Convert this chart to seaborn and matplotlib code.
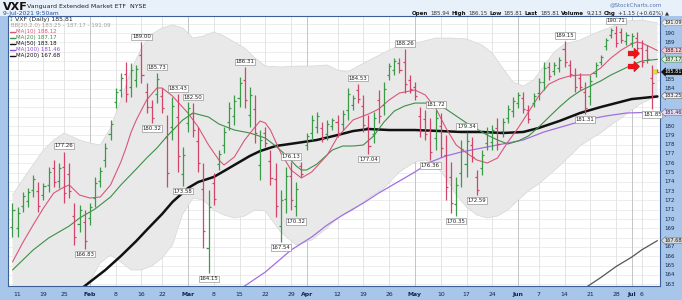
import matplotlib
matplotlib.use("Agg")
import numpy as np
import pandas as pd
import matplotlib.pyplot as plt
import seaborn as sns

# ---------------- data ----------------
dates = (["2021-01-%02d" % d for d in [8, 11, 12, 13, 14, 15, 19, 20, 21, 22, 25, 26, 27, 28, 29]] +
         ["2021-02-%02d" % d for d in [1, 2, 3, 4, 5, 8, 9, 10, 11, 12, 16, 17, 18, 19, 22, 23, 24, 25, 26]] +
         ["2021-03-%02d" % d for d in [1, 2, 3, 4, 5, 8, 9, 10, 11, 12, 15, 16, 17, 18, 19, 22, 23, 24, 25, 26, 29, 30, 31]] +
         ["2021-04-%02d" % d for d in [1, 5, 6, 7, 8, 9, 12, 13, 14, 15, 16, 19, 20, 21, 22, 23, 26, 27, 28, 29, 30]] +
         ["2021-05-%02d" % d for d in [3, 4, 5, 6, 7, 10, 11, 12, 13, 14, 17, 18, 19, 20, 21, 24, 25, 26, 27, 28]] +
         ["2021-06-%02d" % d for d in [1, 2, 3, 4, 7, 8, 9, 10, 11, 14, 15, 16, 17, 18, 21, 22, 23, 24, 25, 28, 29, 30]] +
         ["2021-07-%02d" % d for d in [1, 2, 6, 7, 8, 9]])

opens = [169.17, 169.04, 171.40, 171.90, 173.08, 173.01, 172.59, 173.71, 175.48, 174.14,
         175.60, 174.89, 170.37, 169.47, 169.73, 170.07, 172.26, 174.09, 176.36, 179.15,
         182.59, 183.89, 185.59, 184.22, 184.91, 187.69, 183.66, 182.06, 183.45, 183.28,
         178.86, 179.89, 180.92, 174.83, 180.33, 181.40, 178.44, 173.28, 166.84, 173.92,
         175.92, 177.94, 180.47, 181.08, 183.01, 185.00, 181.18, 181.79, 175.81, 179.25,
         176.29, 174.28, 169.21, 172.13, 174.58, 171.42, 175.65, 177.97, 179.30, 179.93,
         179.79, 179.15, 179.96, 180.47, 180.22, 181.68, 182.21, 183.91, 182.15, 179.94,
         179.17, 182.81, 182.25, 185.50, 186.04, 186.83, 186.85, 184.91, 184.15, 181.07,
         180.75, 179.51, 178.71, 179.98, 176.93, 174.49, 171.60, 174.96, 175.97, 178.01,
         174.47, 175.54, 178.16, 178.23, 179.83, 179.43, 180.91, 181.62, 182.46, 182.98,
         181.68, 182.49, 183.51, 184.77, 186.30, 185.91, 186.29, 188.31, 186.55, 185.47,
         185.15, 183.70, 183.23, 185.75, 186.88, 188.56, 189.78, 190.05, 190.06, 189.13,
         188.95, 189.47, 188.38, 188.13, 185.15, 185.94]
highs = [171.72, 171.29, 172.90, 173.33, 174.73, 173.98, 173.87, 175.59, 176.35, 176.02,
         177.26, 176.02, 171.72, 171.51, 170.97, 171.72, 174.52, 175.59, 178.17, 180.65,
         184.09, 185.70, 186.88, 186.78, 186.56, 189.00, 184.63, 182.80, 185.73, 184.09,
         181.18, 183.12, 183.43, 177.74, 182.58, 182.50, 179.89, 176.02, 173.12, 174.95,
         177.42, 179.89, 182.58, 183.34, 185.27, 186.31, 184.20, 183.34, 179.57, 179.89,
         177.42, 176.02, 173.12, 175.59, 176.13, 173.98, 176.13, 179.25, 181.18, 181.51,
         180.43, 180.65, 180.86, 181.18, 181.72, 184.09, 183.34, 184.53, 183.34, 181.18,
         181.51, 183.87, 184.73, 186.78, 187.32, 187.32, 188.26, 185.49, 184.73, 182.04,
         181.72, 180.86, 181.72, 181.40, 179.03, 176.13, 174.52, 178.50, 179.34, 178.82,
         175.27, 177.42, 179.89, 180.11, 180.86, 180.86, 182.26, 183.12, 183.66, 183.66,
         182.26, 183.55, 185.16, 186.88, 186.88, 186.88, 187.42, 189.15, 187.10, 186.24,
         185.70, 184.73, 185.49, 186.88, 187.64, 189.46, 190.54, 190.71, 190.54, 190.11,
         190.00, 190.11, 189.25, 188.71, 186.56, 186.15]
lows = [168.07, 168.07, 170.75, 171.29, 172.37, 170.75, 172.04, 172.90, 173.44, 173.33,
        171.72, 172.26, 167.21, 168.60, 166.83, 169.36, 171.29, 173.44, 175.59, 178.50,
        181.94, 183.12, 182.58, 183.12, 184.20, 184.63, 181.40, 180.32, 182.47, 181.40,
        173.44, 178.50, 175.06, 173.58, 179.36, 178.82, 175.06, 166.88, 164.15, 171.51,
        175.27, 177.10, 179.57, 180.11, 182.04, 181.94, 179.89, 178.17, 174.20, 177.74,
        173.66, 170.22, 167.54, 170.65, 170.97, 170.32, 174.52, 177.42, 178.50, 179.25,
        178.28, 178.50, 179.57, 178.82, 179.57, 180.65, 181.72, 182.47, 179.36, 177.04,
        178.17, 180.33, 181.18, 184.95, 185.49, 185.70, 183.55, 183.55, 182.80, 178.82,
        178.50, 176.36, 177.42, 176.67, 172.04, 170.65, 170.35, 173.44, 174.52, 176.13,
        172.59, 174.73, 177.42, 177.42, 177.42, 178.82, 180.33, 180.97, 181.94, 181.40,
        180.33, 182.04, 182.80, 183.87, 184.95, 185.49, 185.81, 186.35, 185.27, 183.66,
        183.87, 181.31, 182.26, 185.27, 186.56, 188.17, 189.46, 188.50, 188.93, 188.71,
        188.50, 187.96, 186.35, 186.78, 181.85, 185.81]
closes = [170.99, 170.65, 172.47, 172.92, 174.26, 171.40, 173.50, 175.05, 174.02, 175.48,
          172.83, 173.01, 168.11, 170.93, 167.66, 171.25, 173.87, 175.16, 177.65, 180.22,
          183.66, 185.18, 183.44, 186.05, 186.09, 185.50, 182.05, 180.82, 185.08, 181.94,
          174.99, 182.20, 176.73, 176.91, 181.94, 179.56, 176.03, 168.71, 171.33, 172.20,
          176.99, 179.33, 181.98, 182.69, 184.62, 182.81, 183.34, 179.20, 178.50, 178.17,
          174.41, 171.38, 172.00, 174.60, 172.00, 173.25, 174.84, 178.88, 180.64, 181.06,
          178.71, 180.22, 180.60, 179.29, 181.29, 183.40, 183.02, 182.88, 180.16, 177.87,
          180.84, 181.04, 184.02, 186.41, 186.95, 186.02, 184.49, 183.94, 183.19, 179.46,
          179.14, 177.26, 180.86, 177.62, 173.44, 171.75, 173.69, 177.49, 178.38, 176.67,
          173.13, 176.88, 179.40, 179.57, 178.11, 180.45, 181.87, 182.69, 183.32, 181.85,
          180.72, 183.25, 184.69, 186.28, 185.34, 186.60, 187.10, 186.91, 185.64, 184.18,
          184.24, 181.99, 184.84, 186.56, 187.42, 189.20, 190.32, 188.94, 189.25, 189.83,
          189.70, 188.39, 186.93, 187.17, 184.66, 185.81]

# indicator lines (trading-day index, value)
ma10_idx = [0, 2, 4, 6, 8, 10, 11, 13, 15, 17, 19, 21, 22, 23, 24, 26, 28, 29, 31, 34, 36, 38, 40, 41, 43,
            45, 47, 48, 49, 50, 52, 54, 56, 58, 61, 63, 66, 69, 71, 73, 75, 78, 80, 82, 84, 86, 88, 90, 92,
            94, 96, 98, 100, 102, 104, 106, 108, 110, 112, 114, 116, 118, 120, 121, 122, 124, 125]
ma10_val = [165.38, 167.47, 169.36, 171.18, 172.80, 173.44, 173.66, 172.58, 172.26, 172.37, 173.66,
            176.13, 177.64, 179.36, 180.65, 182.80, 184.09, 184.09, 183.23, 181.40, 179.89, 177.96,
            176.35, 175.81, 176.67, 178.50, 179.89, 180.54, 180.33, 179.57, 177.10, 175.27, 174.41,
            175.06, 176.88, 178.82, 180.65, 181.29, 181.83, 182.80, 183.55, 183.87, 183.34, 181.94,
            179.79, 177.96, 177.10, 176.35, 176.02, 176.56, 178.28, 179.79, 181.51, 183.23, 184.52,
            185.06, 185.38, 185.49, 185.49, 186.24, 187.32, 188.17, 188.82, 189.03, 188.93, 188.39, 188.12]
ma20_idx = [0, 4, 7, 11, 13, 16, 19, 21, 24, 26, 28, 30, 33, 35, 38, 40, 43, 46, 49, 51, 53, 55, 56, 57,
            59, 62, 64, 66, 68, 70, 72, 74, 76, 78, 80, 82, 84, 86, 88, 90, 92, 94, 96, 98, 100, 102, 104,
            106, 108, 110, 112, 114, 116, 118, 120, 122, 125]
ma20_val = [164.52, 166.67, 167.96, 169.25, 170.11, 171.08, 172.37, 173.66, 175.38, 176.56, 177.64,
            178.93, 180.65, 181.40, 180.97, 180.22, 179.57, 179.25, 178.71, 177.85, 176.88, 175.70,
            175.27, 175.27, 175.91, 177.42, 177.85, 177.85, 177.96, 178.93, 180.43, 181.61, 182.15,
            182.47, 182.47, 182.37, 181.83, 181.08, 180.33, 179.68, 179.03, 178.50, 178.07, 178.39,
            178.93, 179.89, 180.97, 182.04, 183.01, 183.77, 184.30, 184.84, 185.49, 186.02, 186.56,
            186.99, 187.17]
ma50_idx = [13, 14, 16, 18, 21, 24, 26, 29, 31, 34, 36, 39, 41, 43, 46, 48, 51, 55, 59, 63, 66, 69, 73,
            78, 83, 87, 91, 95, 99, 102, 106, 110, 114, 117, 120, 122, 125]
ma50_val = [162.37, 162.80, 163.66, 164.52, 166.02, 167.64, 168.82, 170.54, 171.83, 173.33, 173.98,
            174.52, 175.16, 175.81, 176.78, 177.31, 177.85, 178.17, 178.50, 179.03, 179.46, 179.68,
            179.57, 179.57, 179.46, 179.36, 179.36, 179.25, 179.36, 179.79, 180.54, 181.40, 182.04,
            182.47, 182.90, 183.01, 183.18]
ma100_idx = [44, 45, 49, 54, 58, 61, 64, 68, 71, 75, 78, 81, 84, 87, 91, 95, 99, 103, 107, 111, 115,
             119, 122, 125]
ma100_val = [162.58, 162.80, 164.30, 166.67, 168.07, 169.36, 170.43, 171.72, 172.80, 174.09, 175.06,
             176.13, 176.78, 177.21, 177.64, 178.07, 178.50, 179.36, 180.00, 180.65, 181.08, 181.40,
             181.45, 181.46]
ma200_idx = [111, 114, 117, 120, 122, 125]
ma200_val = [162.60, 163.70, 164.90, 165.90, 166.70, 167.68]
bb_up_idx = [0, 3, 6, 8, 10, 13, 15, 17, 19, 21, 23, 25, 27, 29, 31, 33, 35, 37, 39, 41, 43, 45, 47, 49,
             52, 55, 58, 61, 63, 65, 67, 70, 73, 76, 79, 82, 85, 88, 91, 93, 95, 97, 99, 101, 103, 105,
             107, 110, 113, 116, 119, 122, 125]
bb_up_val = [172.58, 175.06, 177.42, 178.50, 179.25, 178.50, 178.17, 177.96, 179.79, 182.80, 186.02,
             188.39, 189.89, 190.54, 190.86, 190.54, 189.46, 189.68, 190.11, 189.68, 189.03, 188.39,
             187.32, 186.45, 186.35, 186.45, 186.45, 186.56, 186.02, 185.81, 186.45, 187.32, 188.17,
             188.93, 189.03, 189.46, 189.46, 189.36, 188.71, 187.85, 186.24, 184.73, 184.30, 184.95,
             186.45, 187.96, 188.82, 189.25, 190.00, 190.65, 191.29, 191.40, 191.09]
bb_lo_idx = [0, 3, 6, 8, 10, 13, 15, 17, 19, 21, 23, 25, 27, 29, 31, 33, 35, 37, 39, 41, 43, 45, 47, 49,
             52, 55, 58, 61, 63, 66, 69, 72, 75, 78, 80, 82, 84, 86, 88, 90, 92, 94, 96, 98, 100, 102,
             104, 106, 108, 110, 112, 114, 116, 118, 120, 122, 125]
bb_lo_val = [156.45, 156.99, 157.42, 157.64, 159.03, 161.72, 163.33, 165.27, 166.13, 165.38, 164.52,
             164.52, 164.95, 165.81, 167.21, 170.54, 172.26, 172.04, 170.97, 170.43, 170.11, 170.32,
             170.97, 170.86, 168.60, 167.21, 167.74, 169.03, 170.11, 170.97, 172.26, 173.33, 175.06,
             176.13, 176.35, 175.81, 174.41, 172.58, 171.29, 170.43, 170.11, 170.32, 170.97, 172.04,
             173.01, 173.77, 174.73, 175.70, 176.78, 177.85, 178.60, 179.25, 180.11, 180.86, 181.72,
             182.47, 183.25]

hi_label_idx = [10, 25, 28, 32, 35, 45, 54, 67, 76, 82, 88, 107, 117]
lo_label_idx = [14, 27, 33, 38, 52, 55, 69, 81, 86, 90, 111, 124]

tick_dates = ["2021-01-11", "2021-01-19", "2021-01-25", "2021-02-01", "2021-02-08", "2021-02-16",
              "2021-02-22", "2021-03-01", "2021-03-08", "2021-03-15", "2021-03-22", "2021-03-29",
              "2021-04-01", "2021-04-12", "2021-04-19", "2021-04-26", "2021-05-03", "2021-05-10",
              "2021-05-17", "2021-05-24", "2021-06-01", "2021-06-07", "2021-06-14", "2021-06-21",
              "2021-06-28", "2021-07-01", "2021-07-06"]
tick_labels = ["11", "19", "25", "Feb", "8", "16", "22", "Mar", "8", "15", "22", "29", "Apr", "12",
               "19", "26", "May", "10", "17", "24", "Jun", "7", "14", "21", "28", "Jul", "6"]
month_labels = ["Feb", "Mar", "Apr", "May", "Jun", "Jul"]

volume_text = "9,213"
chg_text = "+1.15 (+0.62%)"

# ---------------- style ----------------
sns.set_theme(style="white")
plt.rcParams["font.family"] = ["DejaVu Sans"]

W, H = 682, 300
fig = plt.figure(figsize=(W / 100, H / 100), dpi=100)
fig.patch.set_facecolor("#a8c6ea")


def fx(x):
    return x / W


def fy(y):
    return 1 - y / H


# header band
fig.add_artist(plt.Rectangle((0, fy(16)), 1, 16 / H, transform=fig.transFigure,
                             fc="#e8f0fa", ec="none", zorder=0))

ax = fig.add_axes([fx(8), fy(286), fx(660 - 8), (286 - 16) / H])
ax.set_facecolor("white")
n = len(dates)
xs = np.arange(n)
ax.set_xlim(-0.87, 125.5)
ax.set_ylim(162.8, 191.83)

# grid
for v in range(163, 192):
    ax.axhline(v, color="#e6e6e6", lw=0.5, zorder=0)
tick_idx = [dates.index(d) for d in tick_dates]
for t, lab in zip(tick_idx, tick_labels):
    ax.axvline(t, color="#bcbcbc" if lab in month_labels else "#e0e0e0", lw=0.6, zorder=0)

# Bollinger band
poly_x = list(bb_up_idx) + list(bb_lo_idx[::-1])
poly_y = list(bb_up_val) + list(bb_lo_val[::-1])
ax.fill(poly_x, poly_y, color="#e9e9e9", lw=0, zorder=1)
ax.plot(bb_up_idx, bb_up_val, color="#d6d6d6", lw=0.5, zorder=1)
ax.plot(bb_lo_idx, bb_lo_val, color="#d6d6d6", lw=0.5, zorder=1)

# moving averages
sns.lineplot(x=ma200_idx, y=ma200_val, ax=ax, color="#555555", lw=0.9, zorder=2)
sns.lineplot(x=ma100_idx, y=ma100_val, ax=ax, color="#a070e0", lw=0.9, zorder=2)
sns.lineplot(x=ma50_idx, y=ma50_val, ax=ax, color="#111111", lw=1.8, zorder=2)
sns.lineplot(x=ma20_idx, y=ma20_val, ax=ax, color="#3d8f45", lw=0.8, zorder=3)
sns.lineplot(x=ma10_idx, y=ma10_val, ax=ax, color="#d9577a", lw=0.8, zorder=3)

# OHLC bars
o = np.array(opens); h = np.array(highs); l = np.array(lows); c = np.array(closes)
cols = np.where(c >= o, "#3a9a48", "#d2456b")
ax.vlines(xs, l, h, colors=cols, lw=0.9, zorder=4)
ax.hlines(o, xs - 0.4, xs, colors=cols, lw=0.9, zorder=4)
ax.hlines(c, xs, xs + 0.4, colors=cols, lw=0.9, zorder=4)

# high / low labels
box = dict(boxstyle="square,pad=0.12", fc="white", ec="#808080", lw=0.4)
for i in hi_label_idx:
    ax.annotate(f"{highs[i]:.2f}", xy=(i, highs[i]), xytext=(0, 2.2), textcoords="offset points",
                ha="center", va="bottom", fontsize=3.9, color="#222222", bbox=box, zorder=6)
for i in lo_label_idx:
    ax.annotate(f"{lows[i]:.2f}", xy=(i, lows[i]), xytext=(0, -2.2), textcoords="offset points",
                ha="center", va="top", fontsize=3.9, color="#222222", bbox=box, zorder=6)

# red arrow annotations
arrow_verts = [(-1, 0.35), (0.15, 0.35), (0.15, 0.85), (1, 0), (0.15, -0.85), (0.15, -0.35), (-1, -0.35)]
ax.plot([120.2, 120.2], [187.85, 186.45], ls="none", marker=arrow_verts, ms=8, color="#e8141c", zorder=7)
# current price marker
ax.plot([0.993], [closes[-1]], marker="s", ms=3.2, color="#e2e23a", transform=ax.get_yaxis_transform(),
        clip_on=False, zorder=7, mec="#b0b020", mew=0.3)

# spines / ticks
for sp in ax.spines.values():
    sp.set_color("#3c5f96")
    sp.set_linewidth(0.8)
ax.set_yticks([])
ax.set_xticks(tick_idx)
ax.set_xticklabels(tick_labels)
for lab in ax.get_xticklabels():
    lab.set_fontsize(4.4)
    lab.set_color("#14264d")
    if lab.get_text() in month_labels:
        lab.set_fontweight("bold")
ax.set_xticks(xs, minor=True)
ax.tick_params(axis="x", which="major", length=1.5, width=0.5, pad=2.5, color="#333333")
ax.tick_params(axis="x", which="minor", length=1.2, width=0.4, color="#333333")
ax.set_xlabel("")
ax.set_ylabel("")

# right axis labels
specials = [(bb_up_val[-1], "#ececec", "#8a8a8a", "#222222"),
            (ma10_val[-1], "#f7c9d3", "#d05070", "#222222"),
            (ma20_val[-1], "#dcefd9", "#3f8f46", "#222222"),
            (closes[-1], "#111111", "#111111", "white"),
            (bb_lo_val[-1], "#ececec", "#666666", "#222222"),
            (ma100_val[-1], "#e6daf7", "#8a5cc8", "#222222"),
            (ma200_val[-1], "#d8d8d8", "#777777", "#222222")]
spec_vals = [s[0] for s in specials]
ytr = ax.get_yaxis_transform()
for v in range(163, 192):
    if min(abs(v - s) for s in spec_vals) < 0.6:
        continue
    ax.text(1.006, v, str(v), transform=ytr, fontsize=4.0, va="center", ha="left",
            color="#16284f", clip_on=False)
for v, fc, ec, tc in specials:
    ax.text(1.0065, v, f"{v:.2f}", transform=ytr, fontsize=3.6, va="center", ha="left", color=tc,
            clip_on=False, zorder=8,
            bbox=dict(boxstyle="larrow,pad=0.06", fc=fc, ec=ec, lw=0.4))

# legend (top-left inside plot)
lx = fx(11)
fig.text(fx(9), fy(19.5), "\u2195", fontsize=4, color="#3a9a48", va="center")
fig.text(lx + 0.006, fy(19.5), f"VXF (Daily) {closes[-1]:.2f}", fontsize=4.4, color="#222222", va="center")
fig.text(lx, fy(25.5), f"BB(20,2.0) {bb_lo_val[-1]:.2f} - {ma20_val[-1]:.2f} - {bb_up_val[-1]:.2f}",
         fontsize=4.0, color="#a0a0a0", va="center")
leg = [(f"MA(10) {ma10_val[-1]:.2f}", "#d9577a"),
       (f"MA(20) {ma20_val[-1]:.2f}", "#3d8f45"),
       (f"MA(50) {ma50_val[-1]:.2f}", "#111111"),
       (f"MA(100) {ma100_val[-1]:.2f}", "#8a50d0"),
       (f"MA(200) {ma200_val[-1]:.2f}", "#111111")]
for k, (txt, colr) in enumerate(leg):
    yy = fy(31.5 + 6 * k)
    fig.add_artist(plt.Line2D([fx(10), fx(15)], [yy, yy], color=colr, lw=1.0, transform=fig.transFigure))
    fig.text(fx(15.5), yy, txt, fontsize=4.0, color=colr, va="center")

# header texts
fig.text(fx(3), fy(6.5), "VXF", fontsize=8, fontweight="bold", color="#111111", va="center")
fig.text(fx(27), fy(6.5), "Vanguard Extended Market ETF  NYSE", fontsize=4.5, color="#222222", va="center")
fig.text(fx(3), fy(13.5), "9-Jul-2021 9:50am", fontsize=4.3, color="#1e4ea0", va="center")
fig.text(fx(662), fy(4.5), "@StockCharts.com", fontsize=4.0, color="#5575b0", ha="right", va="center")

renderer = fig.canvas.get_renderer()
parts = [("Open", True), (f"{opens[-1]:.2f}", False), ("High", True), (f"{highs[-1]:.2f}", False),
         ("Low", True), (f"{lows[-1]:.2f}", False), ("Last", True), (f"{closes[-1]:.2f}", False),
         ("Volume", True), (volume_text, False), ("Chg", True), (chg_text + " \u25b2", False)]
xcur = 412
for txt, bold in parts:
    t = fig.text(fx(xcur), fy(13.5), txt, fontsize=3.95, fontweight="bold" if bold else "normal",
                 color="#111111" if bold else "#333333", va="center", ha="left")
    bb = t.get_window_extent(renderer)
    xcur += bb.width + 2.0

fig.savefig("out.png", dpi=100, facecolor=fig.get_facecolor())
